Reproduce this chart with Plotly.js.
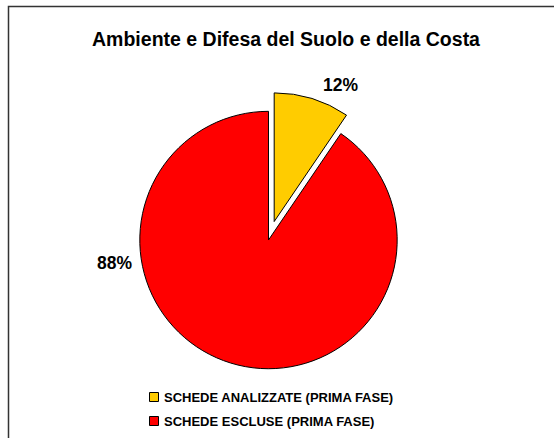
<!DOCTYPE html>
<html>
<head>
<meta charset="utf-8">
<script src="https://cdn.plot.ly/plotly-3.0.1.min.js"></script>
<style>html,body{margin:0;padding:0;background:#fff;}#chart{width:554px;height:438px;}</style>
</head>
<body>
<div id="chart"></div>
<script>
const chartTitle = "Ambiente e Difesa del Suolo e della Costa";
const categories = ["SCHEDE ANALIZZATE (PRIMA FASE)", "SCHEDE ESCLUSE (PRIMA FASE)"];
const values = [9.5, 90.5];
// percentage labels as printed on the chart
const sliceLabels = ["12%", "88%"];
const colors = ["#FFCC00", "#FF0000"];
const pulls = [0.15, 0];

const W = 554, H = 438;
const px = x => x / W;
const py = y => 1 - y / H;
const FONT = "Liberation Sans, Arial, sans-serif";

const trace = {
  type: "pie",
  labels: categories,
  values: values,
  sort: false,
  direction: "clockwise",
  rotation: 0,
  pull: pulls,
  textinfo: "none",
  hoverinfo: "label",
  showlegend: false,
  marker: { colors: colors, line: { color: "#000000", width: 1 } },
  domain: { x: [0.2175, 0.7518], y: [0.114, 0.790] }
};

const labelPos = [[340, 85], [114, 263]];
const annotations = sliceLabels.map((t, i) => ({
  text: t, xref: "paper", yref: "paper",
  x: px(labelPos[i][0]), y: py(labelPos[i][1]),
  xanchor: "center", yanchor: "middle", showarrow: false,
  font: { family: FONT, size: 17.5, color: "#000", weight: "bold" }
}));

// legend drawn by hand
const legendRows = [397, 421];
const shapes = [{
  type: "rect", xref: "paper", yref: "paper",
  x0: px(8.5), x1: 1.02, y0: -0.02, y1: py(6.5),
  line: { color: "#333333", width: 1.5 }, fillcolor: "rgba(0,0,0,0)", layer: "below"
}];
categories.forEach((c, i) => {
  const cy = legendRows[i];
  shapes.push({
    type: "rect", xref: "paper", yref: "paper",
    x0: px(149.5), x1: px(158.5), y0: py(cy + 4.5), y1: py(cy - 4.5),
    line: { color: "#000", width: 1 }, fillcolor: colors[i]
  });
  annotations.push({
    text: c, xref: "paper", yref: "paper",
    x: px(162), y: py(cy), xanchor: "left", yanchor: "middle", showarrow: false,
    font: { family: FONT, size: 13, color: "#000", weight: "bold" }
  });
});

const layout = {
  width: W, height: H,
  margin: { l: 0, r: 0, t: 0, b: 0 },
  paper_bgcolor: "#ffffff",
  title: {
    text: chartTitle, x: px(286), xanchor: "center", y: py(39), yanchor: "middle",
    font: { family: FONT, size: 19.5, color: "#000", weight: "bold" }
  },
  showlegend: false,
  annotations: annotations,
  shapes: shapes
};

Plotly.newPlot("chart", [trace], layout, { displayModeBar: false, staticPlot: true });
</script>
</body>
</html>
